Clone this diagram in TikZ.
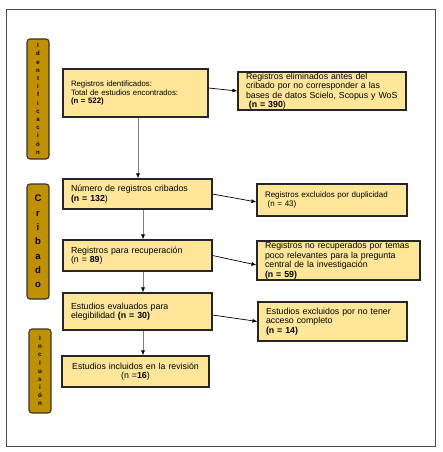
\documentclass[tikz,border=0pt]{standalone}
\usepackage{fontspec}
\setmainfont{Liberation Sans}
\usetikzlibrary{arrows.meta}
\definecolor{boxfill}{HTML}{FFE699}
\definecolor{barfill}{HTML}{BF9000}
\tikzset{
  box/.style={draw=black!85,line width=1.1pt,fill=boxfill,inner xsep=8pt,inner ysep=0.5pt,
    align=left,font=\fontsize{8.8}{9.5}\selectfont},
  phase/.style={draw=black!80,line width=1.1pt,fill=barfill,rounded corners=3pt,
    minimum width=22pt,inner sep=0pt,align=center},
  harr/.style={line width=0.7pt,-{Latex[length=5pt,width=4pt]}},
  varr/.style={draw=black!50,line width=0.7pt,-{Latex[black,length=5pt,width=4pt]}}
}

\begin{document}
\begin{tikzpicture}[x=1pt,y=-1pt]
  \useasboundingbox (0,0) rectangle (442,452);
  \draw[black!70,line width=1pt] (6,9.5) rectangle (435,446);
  % fases
  \node[phase,minimum height=120pt,font=\bfseries\fontsize{6}{8.2}\selectfont] (fid) at (38,99)
    {I\\d\\e\\n\\t\\i\\f\\i\\c\\a\\c\\i\\ó\\n};
  \node[phase,minimum height=115pt,font=\bfseries\fontsize{9.5}{14.3}\selectfont] (fcrib) at (38,241.5)
    {C\\r\\i\\b\\a\\d\\o};
  \node[phase,minimum height=84pt,font=\bfseries\fontsize{6.3}{8.1}\selectfont] (fincl) at (40,371)
    {I\\n\\c\\l\\u\\s\\i\\ó\\n};
  % cajas
  \node[box,text width=129pt,minimum height=48pt,font=\fontsize{7.8}{8.8}\selectfont] (ident) at (135.5,93)
    {Registros identificados:\\Total de estudios encontrados:\\\textbf{(n = 522)}};
  \node[box,text width=152pt,minimum height=38pt] (elim) at (322,91)
    {\makebox[151pt][s]{Registros eliminados antes del}\\
     \makebox[151pt][s]{cribado por no corresponder a las}\\
     \makebox[151pt][s]{bases de datos Scielo, Scopus y WoS}\\
     \ \textbf{(n = 390})};
  \node[box,text width=133pt,minimum height=30pt] (crib) at (137.5,194)
    {Número de registros cribados\\\textbf{(n = 132})};
  \node[box,text width=134pt,minimum height=32pt,font=\fontsize{8}{8.8}\selectfont] (dupl) at (332,200)
    {Registros excluidos por duplicidad\\\ (n = 43)};
  \node[box,text width=133pt,minimum height=31pt] (recup) at (137.5,255.5)
    {Registros para recuperación\\(n = \textbf{89})};
  \node[box,text width=147pt,minimum height=39pt] (norec) at (338.5,260.5)
    {Registros no recuperados por temas\\poco relevantes para la pregunta\\central de la investigación\\\textbf{(n = 59)}};
  \node[box,text width=133pt,minimum height=37pt] (eleg) at (137.5,311.5)
    {Estudios evaluados para\\elegibilidad \textbf{(n = 30)}};
  \node[box,text width=133pt,minimum height=39pt] (acceso) at (332.5,321.5)
    {Estudios excluidos por no tener\\acceso completo\\\textbf{(n = 14)}};
  \node[box,text width=131pt,minimum height=31pt,align=center] (incl) at (135.5,371.5)
    {Estudios incluidos en la revisión\\(n =\textbf{16})};
  % flechas
  \draw[harr] ([yshift=5pt]ident.east) -- (elim.west);
  \draw[harr] (crib.east) -- ([yshift=-2pt]dupl.west);
  \draw[harr] (recup.east) -- ([yshift=-4.5pt]norec.west);
  \draw[harr] ([yshift=-3.5pt]eleg.east) -- (acceso.west);
  \draw[varr] ([xshift=2.5pt]ident.south) -- ([xshift=2.5pt]ident.south |- crib.north);
  \draw[varr] ([xshift=5.5pt]crib.south) -- ([xshift=5.5pt]crib.south |- recup.north);
  \draw[varr] ([xshift=5.5pt]recup.south) -- ([xshift=5.5pt]recup.south |- eleg.north);
  \draw[varr] ([xshift=5.5pt]eleg.south) -- ([xshift=5.5pt]eleg.south |- incl.north);
\end{tikzpicture}
\end{document}
